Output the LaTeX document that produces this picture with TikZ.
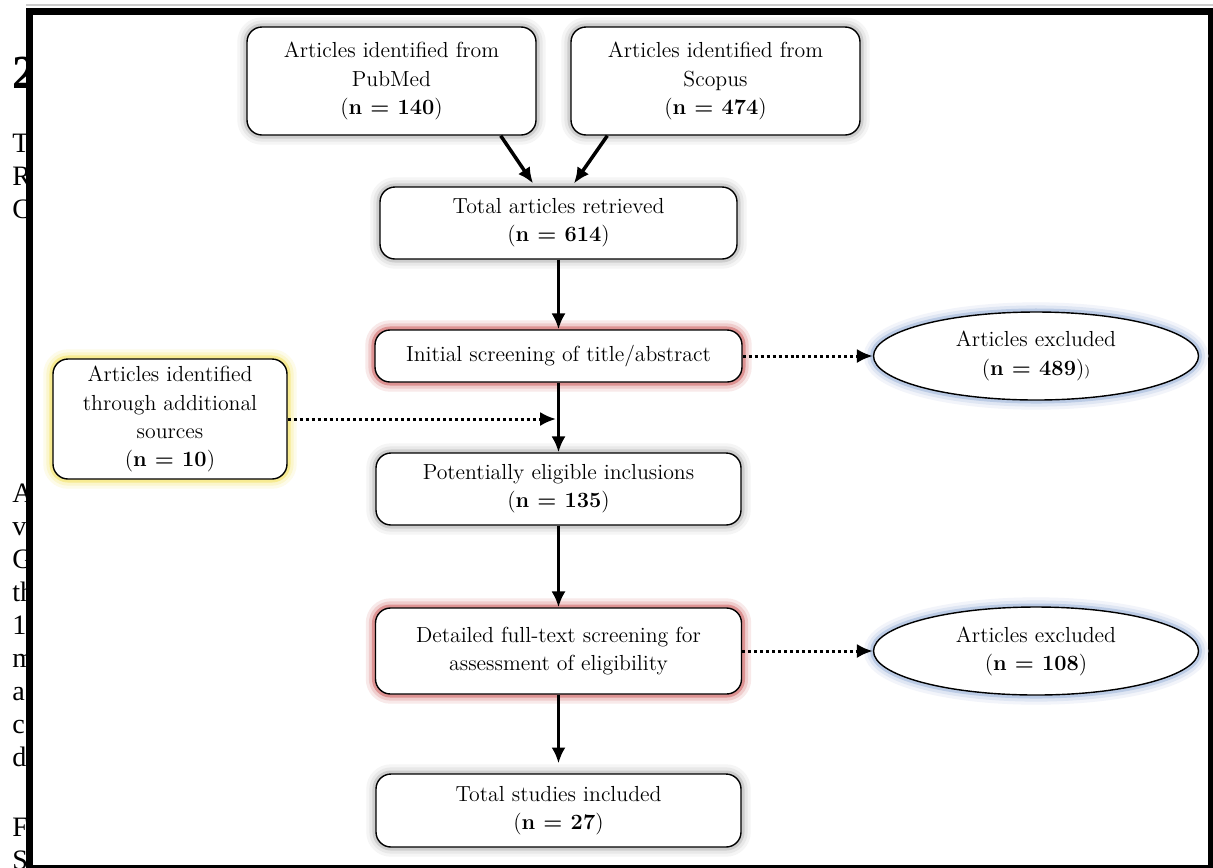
\documentclass[tikz,border=0pt]{standalone}
\usepackage{fontspec}
\newfontfamily\pagefont{Liberation Serif}
\usetikzlibrary{shapes.geometric, arrows.meta}

\definecolor{glowgray}{RGB}{190,190,190}
\definecolor{glowred}{RGB}{210,110,110}
\definecolor{glowyellow}{RGB}{244,228,110}
\definecolor{glowblue}{RGB}{165,185,220}

\begin{document}
\begin{tikzpicture}[font=\fontsize{12.4}{16}\selectfont,
	box/.style={draw, rounded corners=0.3cm, fill=white, line width=0.8pt, align=center, inner sep=2pt},
	oval/.style={ellipse, draw, fill=white, line width=0.8pt, align=center, inner sep=0pt, minimum width=6.5cm, minimum height=1.76cm},
	glow/.style={preaction={draw=#1!15, line width=11pt}, preaction={draw=#1!35, line width=7.5pt}, preaction={draw=#1!75, line width=4pt}},
	frag/.style={font=\pagefont\fontsize{16}{18}\selectfont, anchor=base west, inner sep=0pt},
	arr/.style={->, line width=0.7mm},
	dotarr/.style={->, line width=0.6mm, dash pattern=on 1.7pt off 1.7pt},
	>={Latex[length=9pt, width=8pt]}]
	\useasboundingbox (0, 0) rectangle (24.26, -17.34);
	
	% page text behind the frame
	\node[frag, font=\pagefont\bfseries\fontsize{27}{29}\selectfont] at (0.24, -1.76) {2};
	\foreach \t/\y in {T/3.04, R/3.70, C/4.36, A/10.04, v/10.70, G/11.36, th/12.02, 1/12.68, m/13.34, a/14.00, c/14.66, d/15.32, F/16.72, S/17.38}
		\node[frag] at (0.24, -\y) {\t};
	
	% frame
	\draw[gray!40, line width=0.6pt] (0.52, -0.1) -- (24.26, -0.1);
	\draw[line width=0.14cm, fill=white] (0.59, -0.22) rectangle (24.23, -17.37);
	
	% sources
	\node[box, glow=glowgray, minimum width=5.78cm, minimum height=2.16cm] (pubmed) at (7.83, -1.62) {Articles identified from\\PubMed\\(\textbf{n = 140})};
	\node[box, glow=glowgray, minimum width=5.78cm, minimum height=2.16cm] (scopus) at (14.31, -1.62) {Articles identified from\\Scopus\\(\textbf{n = 474})};
	\node[box, glow=glowyellow, minimum width=4.68cm, minimum height=2.4cm] (extra) at (3.4, -8.38) {Articles identified\\through additional\\sources\\(\textbf{n = 10})};
	
	% screening steps
	\node[box, glow=glowgray, minimum width=7.14cm, minimum height=1.44cm] (total) at (11.17, -4.46) {Total articles retrieved\\(\textbf{n = 614})};
	\node[box, glow=glowred, minimum width=7.34cm, minimum height=1.04cm] (screen) at (11.17, -7.12) {Initial screening of title/abstract};
	\node[box, glow=glowgray, minimum width=7.3cm, minimum height=1.44cm] (eligible) at (11.17, -9.78) {Potentially eligible inclusions\\(\textbf{n = 135})};
	\node[box, glow=glowred, minimum width=7.32cm, minimum height=1.72cm] (fulltext) at (11.17, -13.02) {Detailed full-text screening for\\assessment of eligibility};
	\node[box, glow=glowgray, minimum width=7.3cm, minimum height=1.46cm] (included) at (11.17, -16.21) {Total studies included\\(\textbf{n = 27})};
	
	% exclusions
	\node[oval, glow=glowblue] (excl1) at (20.72, -7.12) {Articles excluded\\(\textbf{n = 489}){\footnotesize)}};
	\node[oval, glow=glowblue] (excl2) at (20.72, -13.02) {Articles excluded\\(\textbf{n = 108})};
	
	% connectors
	\draw[arr, shorten >=2pt] ([xshift=-0.72cm]pubmed.south east) -- ([xshift=-0.47cm]total.north);
	\draw[arr, shorten >=2pt] ([xshift=0.74cm]scopus.south west) -- ([xshift=0.27cm]total.north);
	\draw[arr] (total) -- (screen);
	\draw[arr] (screen) -- (eligible);
	\draw[arr] (eligible) -- (fulltext);
	\draw[arr, shorten >=0.2cm] (fulltext) -- (included);
	\coordinate (join) at (screen.south |- extra.east);
	\draw[dotarr, shorten >=0.05cm] (extra) -- (join);
	\draw[dotarr] (screen) -- (excl1);
	\draw[dotarr] (fulltext) -- (excl2);
\end{tikzpicture}
\end{document}
